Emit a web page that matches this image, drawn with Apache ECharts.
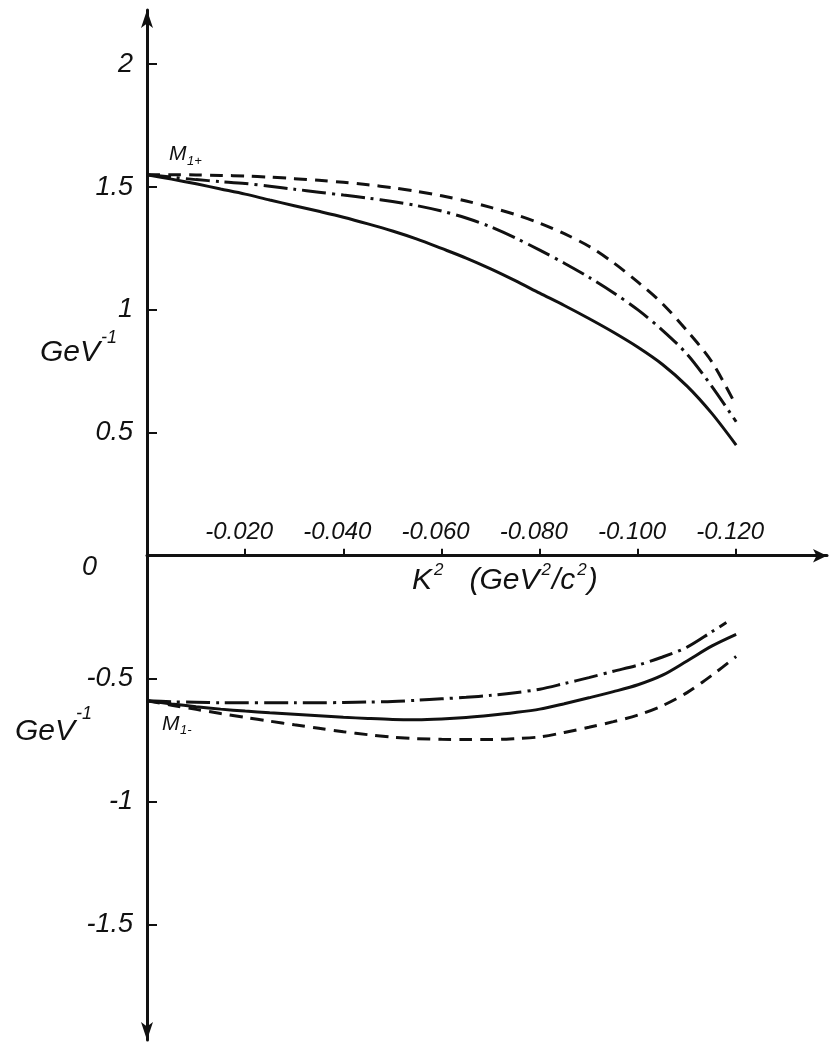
<!DOCTYPE html>
<html><head><meta charset="utf-8">
<script src="https://cdn.jsdelivr.net/npm/echarts@6/dist/echarts.min.js"></script>
<style>html,body{margin:0;padding:0;background:#fff}#c{width:830px;height:1046px}</style>
</head><body><div id="c"></div>
<script>
// K^2 values (GeV^2/c^2)
const kValues = [0, -0.005, -0.01, -0.015, -0.02, -0.025, -0.03, -0.035, -0.04, -0.045, -0.05, -0.055, -0.06,
  -0.065, -0.07, -0.075, -0.08, -0.085, -0.09, -0.095, -0.10, -0.105, -0.11, -0.115, -0.12];
const kLowerDashDot = [0, -0.005, -0.01, -0.015, -0.02, -0.025, -0.03, -0.035, -0.04, -0.045, -0.05, -0.055, -0.06,
  -0.065, -0.07, -0.075, -0.08, -0.085, -0.09, -0.095, -0.10, -0.105, -0.11, -0.115, -0.118];
// M1+ curves (GeV^-1)
const upperSolid   = [1.55, 1.532, 1.513, 1.492, 1.471, 1.447, 1.424, 1.401, 1.377, 1.350, 1.321, 1.288, 1.250,
  1.211, 1.167, 1.119, 1.068, 1.018, 0.965, 0.909, 0.848, 0.778, 0.690, 0.580, 0.45];
const upperDashed  = [1.55, 1.550, 1.549, 1.547, 1.545, 1.540, 1.534, 1.527, 1.519, 1.509, 1.497, 1.482, 1.464,
  1.443, 1.417, 1.388, 1.353, 1.310, 1.259, 1.192, 1.113, 1.025, 0.915, 0.790, 0.61];
const upperDashDot = [1.55, 1.540, 1.530, 1.522, 1.514, 1.503, 1.491, 1.479, 1.467, 1.455, 1.441, 1.424, 1.402,
  1.374, 1.338, 1.293, 1.243, 1.190, 1.133, 1.070, 1.000, 0.917, 0.820, 0.690, 0.545];
// M1- curves (GeV^-1)
const lowerSolid   = [-0.59, -0.603, -0.614, -0.624, -0.632, -0.639, -0.645, -0.651, -0.657, -0.662, -0.666, -0.667, -0.664,
  -0.658, -0.649, -0.638, -0.624, -0.602, -0.578, -0.553, -0.525, -0.486, -0.428, -0.368, -0.32];
const lowerDashed  = [-0.59, -0.608, -0.625, -0.642, -0.658, -0.673, -0.688, -0.702, -0.716, -0.728, -0.738, -0.744, -0.747,
  -0.748, -0.748, -0.744, -0.737, -0.719, -0.698, -0.675, -0.648, -0.610, -0.557, -0.487, -0.41];
const lowerDashDot = [-0.59, -0.594, -0.596, -0.598, -0.598, -0.598, -0.598, -0.598, -0.597, -0.595, -0.593, -0.588, -0.582,
  -0.576, -0.568, -0.557, -0.543, -0.520, -0.496, -0.470, -0.445, -0.412, -0.372, -0.310, -0.272];
// tick labels
const xTicks = [-0.02, -0.04, -0.06, -0.08, -0.10, -0.12];
const yTicks = [-1.5, -1, -0.5, 0.5, 1, 1.5, 2];
const yLabels = [-1.5, -1, -0.5, 0, 0.5, 1, 1.5, 2];

const FONT = "'Liberation Sans', 'DejaVu Sans', sans-serif";
const INK = '#111';
const pair = (xs, ys) => xs.map((x, i) => [x, ys[i]]);
const DASHED = [13, 8];
const DASHDOT = [24, 6, 3, 6];

const Y_MIN = -1.97, Y_MAX = 2.22, GRID_TOP = 10, GRID_BOTTOM = 6, H = 1046;
const plotH = H - GRID_TOP - GRID_BOTTOM;
// move the x axis (line, ticks, labels) up to y = 0
const xAxisOffset = -plotH * (0 - Y_MIN) / (Y_MAX - Y_MIN);

function line(name, xs, ys, type) {
  return {
    name, type: 'line', data: pair(xs, ys), symbol: 'none', smooth: 0.3,
    lineStyle: { color: INK, width: 3, type: type }, z: 3
  };
}

const chart = echarts.init(document.getElementById('c'), null, { renderer: 'canvas' });
chart.setOption({
  backgroundColor: '#fff',
  animation: false,
  grid: { left: 147, right: 3, top: GRID_TOP, bottom: GRID_BOTTOM, containLabel: false, outerBoundsMode: 'none' },
  xAxis: {
    type: 'value', inverse: true, min: -0.1385, max: 0, position: 'bottom', offset: xAxisOffset,
    axisLine: { onZero: false, lineStyle: { color: INK, width: 3 }, symbol: ['none', 'arrow'], symbolSize: [10, 14] },
    axisTick: { show: true, inside: true, length: 7, customValues: xTicks, lineStyle: { color: INK, width: 2 } },
    axisLabel: {
      show: true, inside: true, customValues: xTicks, margin: 11, color: INK, fontFamily: FONT, fontStyle: 'italic', fontSize: 24,
      padding: [0, 12, 0, 0],
      formatter: v => Number(v).toFixed(3)
    },
    splitLine: { show: false }
  },
  yAxis: {
    type: 'value', min: Y_MIN, max: Y_MAX,
    axisLine: { onZero: false, lineStyle: { color: INK, width: 3 }, symbol: ['arrow', 'arrow'], symbolSize: [9, 18] },
    axisTick: { show: true, inside: true, length: 10, customValues: yTicks, lineStyle: { color: INK, width: 2 } },
    axisLabel: {
      customValues: yLabels, margin: 14, color: INK, fontFamily: FONT, fontStyle: 'italic', fontSize: 27,
      formatter: v => Number(v) === 0 ? '{z|0}' : String(v),
      rich: { z: { fontFamily: FONT, fontStyle: 'italic', fontSize: 27, color: INK, padding: [24, 36, 0, 0] } }
    },
    splitLine: { show: false }
  },
  series: [
    line('M1+ solid', kValues, upperSolid, 'solid'),
    line('M1+ dashed', kValues, upperDashed, DASHED),
    line('M1+ dash-dot', kValues, upperDashDot, DASHDOT),
    line('M1- solid', kValues, lowerSolid, 'solid'),
    line('M1- dashed', kValues, lowerDashed, DASHED),
    line('M1- dash-dot', kLowerDashDot, lowerDashDot, DASHDOT)
  ],
  graphic: [
    { type: 'text', left: 412, top: 562, style: {
      text: '{b|K}{s|2}{b|   (GeV}{s|2}{b|/c}{s|2}{b|)}',
      rich: {
        b: { fontFamily: FONT, fontStyle: 'italic', fontSize: 30, fill: INK, lineHeight: 34, verticalAlign: 'bottom' },
        s: { fontFamily: FONT, fontStyle: 'italic', fontSize: 17, fill: INK, lineHeight: 34, verticalAlign: 'top', padding: [0, 1, 0, 2] }
      } } },
    { type: 'text', left: 40, top: 338, style: { text: 'GeV', fontFamily: FONT, fontStyle: 'italic', fontSize: 30, fill: INK } },
    { type: 'text', left: 101, top: 329, style: { text: '-1', fontFamily: FONT, fontStyle: 'italic', fontSize: 18, fill: INK } },
    { type: 'text', left: 15, top: 717, style: { text: 'GeV', fontFamily: FONT, fontStyle: 'italic', fontSize: 30, fill: INK } },
    { type: 'text', left: 76, top: 705, style: { text: '-1', fontFamily: FONT, fontStyle: 'italic', fontSize: 18, fill: INK } },
    { type: 'text', left: 169, top: 144, style: { text: 'M', fontFamily: FONT, fontStyle: 'italic', fontSize: 21, fill: INK } },
    { type: 'text', left: 187, top: 155, style: { text: '1+', fontFamily: FONT, fontStyle: 'italic', fontSize: 13, fill: INK } },
    { type: 'text', left: 162, top: 714, style: { text: 'M', fontFamily: FONT, fontStyle: 'italic', fontSize: 21, fill: INK } },
    { type: 'text', left: 180, top: 724, style: { text: '1-', fontFamily: FONT, fontStyle: 'italic', fontSize: 13, fill: INK } }
  ]
});
</script></body></html>
